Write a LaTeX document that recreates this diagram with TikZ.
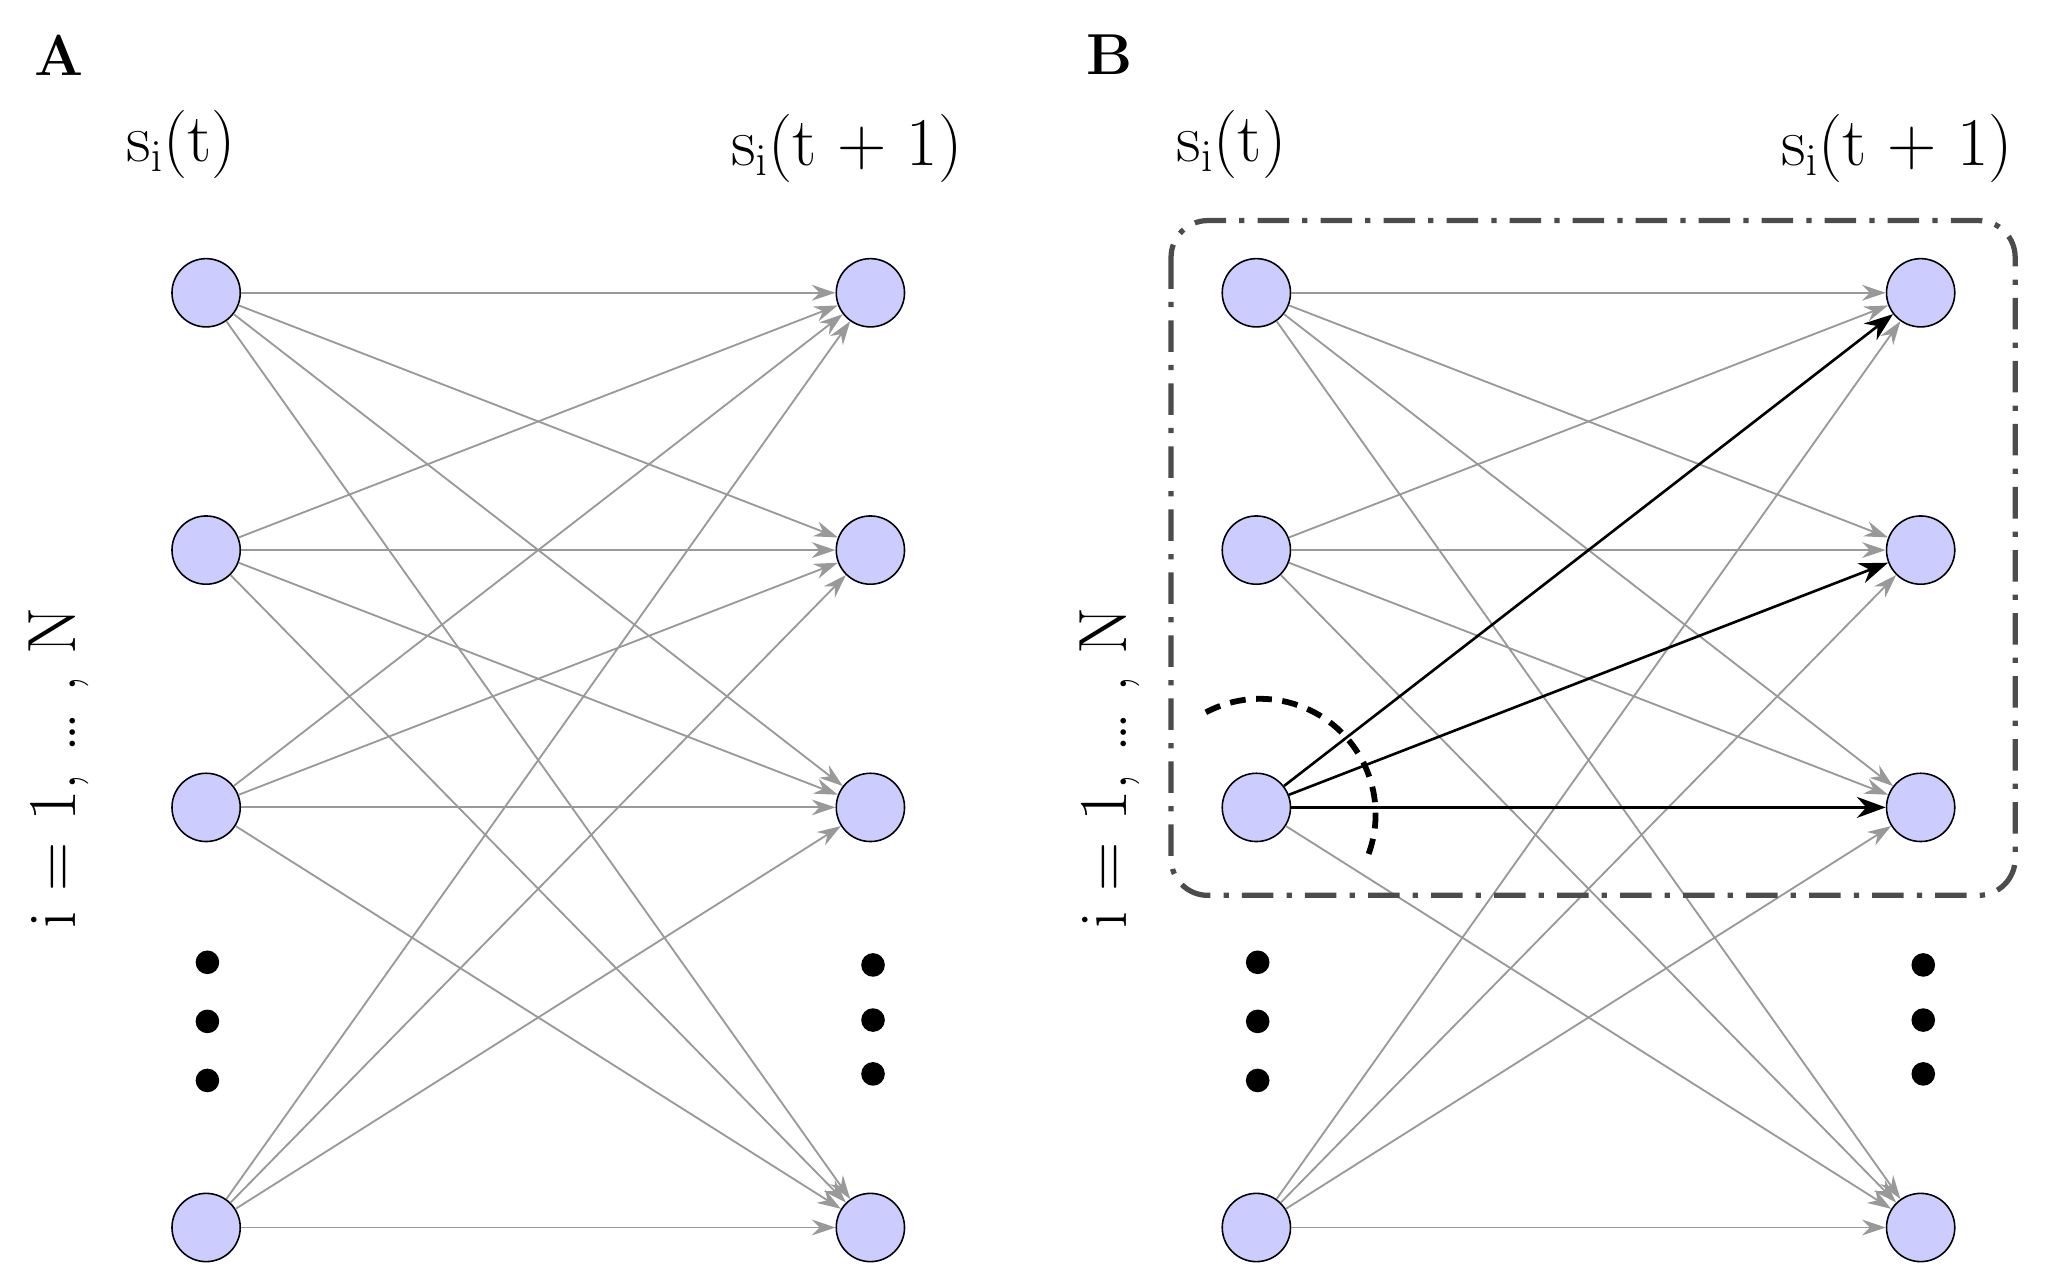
\documentclass[tikz,border=0pt]{standalone}
\usetikzlibrary{arrows.meta}
\begin{document}
\begin{tikzpicture}[x=0.5pt,y=-0.5pt,
  nd/.style={circle,draw=black,line width=0.6pt,fill=blue!20,minimum size=26pt,inner sep=0pt},
  ge/.style={draw=gray!80,line width=0.7pt,-{Stealth[length=9pt,width=6pt]}},
  be/.style={draw=black,line width=1pt,-{Stealth[length=11pt,width=8pt]}},
  dt/.style={circle,fill=black,minimum size=9pt,inner sep=0pt},
  lab/.style={font=\fontsize{26}{30}\selectfont},
  pan/.style={font=\fontsize{22}{26}\selectfont\bfseries}]
\useasboundingbox (0,0) rectangle (1560,981);
\foreach \p/\ox in {A/0,B/800}{
  \node[pan] (\p lab) at (45+\ox,42) {\p};
  \node[lab] (\p st) at (138+\ox,110) {s$_{\mathrm{i}}$(t)};
  \node[lab] (\p st1) at (645+\ox,113) {s$_{\mathrm{i}}$(t + 1)};
  \node[lab,rotate=90] (\p idx) at (45+\ox,585) {i = 1, \dots\ , N};
  \foreach \r/\y in {1/223,2/419,3/615,4/935}{
    \node[nd] (\p L\r) at (157+\ox,\y) {};
    \node[nd] (\p R\r) at (663+\ox,\y) {};
  }
  \foreach \k/\y in {1/733,2/778,3/823}{\node[dt] (\p dl\k) at (158+\ox,\y) {};}
  \foreach \k/\y in {1/735,2/777,3/818}{\node[dt] (\p dr\k) at (665+\ox,\y) {};}
}
\foreach \i in {1,...,4}{\foreach \j in {1,...,4}{\draw[ge] (AL\i) -- (AR\j);}}
\foreach \i in {1,2,4}{\foreach \j in {1,...,4}{\draw[ge] (BL\i) -- (BR\j);}}
\draw[ge] (BL3) -- (BR4);
\foreach \j in {1,2,3}{\draw[be] (BL3) -- (BR\j);}
\draw[draw=black!70,line width=2pt,dash pattern=on 12pt off 5pt on 2pt off 5pt,rounded corners=14pt] (892,168) rectangle (1535,682);
\draw[line width=2.2pt,dash pattern=on 6pt off 4pt] (BL3.center) ++(-118:82) arc[start angle=-118,end angle=22,radius=88];
\end{tikzpicture}
\end{document}
